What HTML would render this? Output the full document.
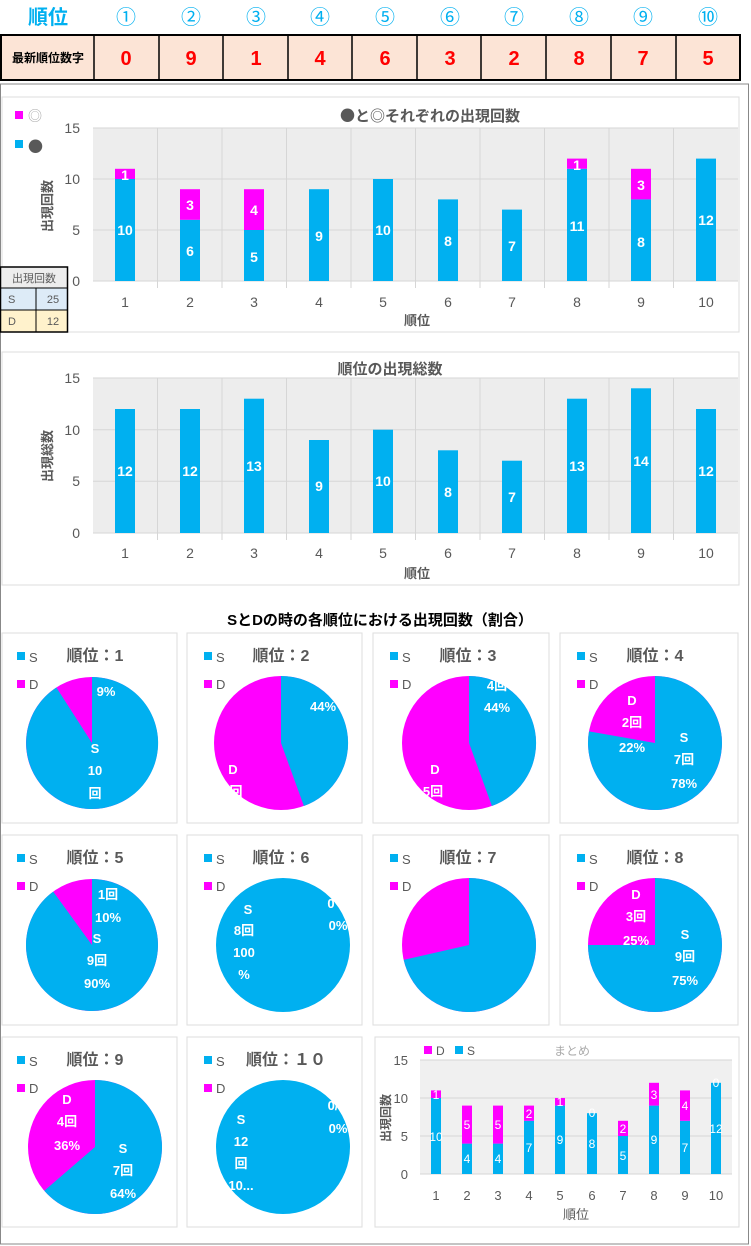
<!DOCTYPE html>
<html><head><meta charset="utf-8"><style>
body{margin:0;background:#fff;}
svg{display:block;font-family:"Liberation Sans","Noto Sans CJK JP",sans-serif;}
.w{fill:#fff;font-weight:bold;font-size:14px;text-anchor:middle}
.ws{fill:#fff;font-size:12px;text-anchor:middle}
.pt{fill:#595959;font-size:16px;font-weight:bold;text-anchor:middle}
.pl{fill:#fff;font-weight:bold;font-size:13px;text-anchor:middle}
.cjk{font-family:"Noto Sans CJK JP",sans-serif}
</style></head><body>
<svg width="751" height="1246" viewBox="0 0 751 1246" xmlns="http://www.w3.org/2000/svg">
<rect x="0.5" y="84" width="748" height="1160" fill="none" stroke="#888" stroke-width="1"/>
<g font-size="20" fill="#00b0f0" font-weight="bold" text-anchor="middle">
<text x="48" y="24">順位</text>
<text x="126" y="24" font-weight="normal">①</text><text x="191" y="24" font-weight="normal">②</text><text x="256" y="24" font-weight="normal">③</text><text x="320" y="24" font-weight="normal">④</text><text x="385" y="24" font-weight="normal">⑤</text><text x="450" y="24" font-weight="normal">⑥</text><text x="514" y="24" font-weight="normal">⑦</text><text x="579" y="24" font-weight="normal">⑧</text><text x="643" y="24" font-weight="normal">⑨</text><text x="708" y="24" font-weight="normal">⑩</text>
</g>
<rect x="1" y="35" width="739" height="45" fill="#fce4d6" stroke="#000" stroke-width="2"/>
<g stroke="#000" stroke-width="1.5"><line x1="94" y1="35" x2="94" y2="80"/><line x1="159" y1="35" x2="159" y2="80"/><line x1="223" y1="35" x2="223" y2="80"/><line x1="288" y1="35" x2="288" y2="80"/><line x1="352" y1="35" x2="352" y2="80"/><line x1="417" y1="35" x2="417" y2="80"/><line x1="481" y1="35" x2="481" y2="80"/><line x1="546" y1="35" x2="546" y2="80"/><line x1="611" y1="35" x2="611" y2="80"/><line x1="676" y1="35" x2="676" y2="80"/></g>
<text x="48" y="62" font-size="12" font-weight="bold" text-anchor="middle" fill="#000">最新順位数字</text>
<g font-size="20" fill="#ff0000" font-weight="bold" text-anchor="middle">
<text x="126" y="65">0</text><text x="191" y="65">9</text><text x="256" y="65">1</text><text x="320" y="65">4</text><text x="385" y="65">6</text><text x="450" y="65">3</text><text x="514" y="65">2</text><text x="579" y="65">8</text><text x="643" y="65">7</text><text x="708" y="65">5</text>
</g>

<rect x="2" y="97" width="737" height="235" fill="#fff" stroke="#ddd"/>
<rect x="93" y="128" width="645" height="153" fill="#ededed"/>
<g stroke="#d6d6d6"><line x1="93" y1="128" x2="738" y2="128"/><line x1="93" y1="179" x2="738" y2="179"/><line x1="93" y1="230" x2="738" y2="230"/>
<line x1="157.5" y1="128" x2="157.5" y2="288"/><line x1="222" y1="128" x2="222" y2="288"/><line x1="286.5" y1="128" x2="286.5" y2="288"/><line x1="351" y1="128" x2="351" y2="288"/><line x1="415.5" y1="128" x2="415.5" y2="288"/><line x1="480" y1="128" x2="480" y2="288"/><line x1="544.5" y1="128" x2="544.5" y2="288"/><line x1="609" y1="128" x2="609" y2="288"/><line x1="673.5" y1="128" x2="673.5" y2="288"/><line x1="93" y1="281" x2="738" y2="281"/></g>
<g fill="#595959" font-size="14" text-anchor="end"><text x="80" y="133">15</text><text x="80" y="184">10</text><text x="80" y="235">5</text><text x="80" y="286">0</text></g>
<g fill="#595959" font-size="14" text-anchor="middle"><text x="125" y="307">1</text><text x="190" y="307">2</text><text x="254" y="307">3</text><text x="319" y="307">4</text><text x="383" y="307">5</text><text x="448" y="307">6</text><text x="512" y="307">7</text><text x="577" y="307">8</text><text x="641" y="307">9</text><text x="706" y="307">10</text></g>
<text x="417" y="325" fill="#595959" font-size="13" font-weight="bold" text-anchor="middle">順位</text>
<text x="52" y="206" fill="#595959" font-size="13" font-weight="bold" text-anchor="middle" transform="rotate(-90 52 206)">出現回数</text>
<text x="430" y="121" fill="#595959" font-size="15" font-weight="bold" text-anchor="middle" class="cjk">●と◎それぞれの出現回数</text>
<rect x="15" y="111" width="8" height="8" fill="#ff00ff"/><text x="28" y="121" fill="#aaa" font-size="14" class="cjk">◎</text>
<rect x="15" y="140" width="8" height="8" fill="#00b0f0"/><text x="28" y="152" fill="#595959" font-size="15" class="cjk">●</text>
<g fill="#00b0f0">
<rect x="115" y="179" width="20" height="102"/><rect x="180" y="219.8" width="20" height="61.2"/><rect x="244" y="230" width="20" height="51"/><rect x="309" y="189.2" width="20" height="91.8"/><rect x="373" y="179" width="20" height="102"/><rect x="438" y="199.4" width="20" height="81.6"/><rect x="502" y="209.6" width="20" height="71.4"/><rect x="567" y="168.8" width="20" height="112.2"/><rect x="631" y="199.4" width="20" height="81.6"/><rect x="696" y="158.6" width="20" height="122.4"/></g>
<g fill="#ff00ff"><rect x="115" y="168.8" width="20" height="10.2"/><rect x="180" y="189.2" width="20" height="30.6"/><rect x="244" y="189.2" width="20" height="40.8"/><rect x="567" y="158.6" width="20" height="10.2"/><rect x="631" y="168.8" width="20" height="30.6"/></g>
<g class="w"><text x="125" y="235">10</text><text x="125" y="180">1</text><text x="190" y="256">6</text><text x="190" y="210">3</text><text x="254" y="262">5</text><text x="254" y="215">4</text><text x="319" y="241">9</text><text x="383" y="235">10</text><text x="448" y="246">8</text><text x="512" y="251">7</text><text x="577" y="231">11</text><text x="577" y="170">1</text><text x="641" y="247">8</text><text x="641" y="190">3</text><text x="706" y="225">12</text></g>
<rect x="0" y="267" width="68" height="21" fill="#ededed"/><rect x="0" y="288" width="68" height="22" fill="#ddebf7"/><rect x="0" y="310" width="68" height="22" fill="#fff2cc"/>
<rect x="0.5" y="267" width="67" height="65" fill="none" stroke="#000" stroke-width="1.5"/>
<g stroke="#000"><line x1="0" y1="288" x2="68" y2="288"/><line x1="0" y1="310" x2="68" y2="310"/><line x1="36" y1="288" x2="36" y2="332"/></g>
<g fill="#595959" font-size="11"><text x="34" y="282" text-anchor="middle">出現回数</text><text x="8" y="303">S</text><text x="53" y="303" text-anchor="middle">25</text><text x="8" y="325">D</text><text x="53" y="325" text-anchor="middle">12</text></g>

<rect x="2" y="352" width="737" height="233" fill="#fff" stroke="#ddd"/>
<rect x="93" y="378" width="645" height="155" fill="#ededed"/>
<g stroke="#d6d6d6"><line x1="93" y1="378" x2="738" y2="378"/><line x1="93" y1="429.7" x2="738" y2="429.7"/><line x1="93" y1="481.3" x2="738" y2="481.3"/>
<line x1="157.5" y1="378" x2="157.5" y2="540"/><line x1="222" y1="378" x2="222" y2="540"/><line x1="286.5" y1="378" x2="286.5" y2="540"/><line x1="351" y1="378" x2="351" y2="540"/><line x1="415.5" y1="378" x2="415.5" y2="540"/><line x1="480" y1="378" x2="480" y2="540"/><line x1="544.5" y1="378" x2="544.5" y2="540"/><line x1="609" y1="378" x2="609" y2="540"/><line x1="673.5" y1="378" x2="673.5" y2="540"/><line x1="93" y1="533" x2="738" y2="533"/></g>
<g fill="#595959" font-size="14" text-anchor="end"><text x="80" y="383">15</text><text x="80" y="435">10</text><text x="80" y="486">5</text><text x="80" y="538">0</text></g>
<g fill="#595959" font-size="14" text-anchor="middle"><text x="125" y="558">1</text><text x="190" y="558">2</text><text x="254" y="558">3</text><text x="319" y="558">4</text><text x="383" y="558">5</text><text x="448" y="558">6</text><text x="512" y="558">7</text><text x="577" y="558">8</text><text x="641" y="558">9</text><text x="706" y="558">10</text></g>
<text x="417" y="578" fill="#595959" font-size="13" font-weight="bold" text-anchor="middle">順位</text>
<text x="52" y="456" fill="#595959" font-size="13" font-weight="bold" text-anchor="middle" transform="rotate(-90 52 456)">出現総数</text>
<text x="390" y="374" fill="#595959" font-size="15" font-weight="bold" text-anchor="middle">順位の出現総数</text>
<g fill="#00b0f0"><rect x="115" y="409" width="20" height="124"/><rect x="180" y="409" width="20" height="124"/><rect x="244" y="398.7" width="20" height="134.3"/><rect x="309" y="440" width="20" height="93"/><rect x="373" y="429.7" width="20" height="103.3"/><rect x="438" y="450.3" width="20" height="82.7"/><rect x="502" y="460.7" width="20" height="72.3"/><rect x="567" y="398.7" width="20" height="134.3"/><rect x="631" y="388.3" width="20" height="144.7"/><rect x="696" y="409" width="20" height="124"/></g>
<g class="w"><text x="125" y="476">12</text><text x="190" y="476">12</text><text x="254" y="471">13</text><text x="319" y="491">9</text><text x="383" y="486">10</text><text x="448" y="497">8</text><text x="512" y="502">7</text><text x="577" y="471">13</text><text x="641" y="466">14</text><text x="706" y="476">12</text></g>

<text x="380" y="625" fill="#000" font-size="15" font-weight="bold" text-anchor="middle">SとDの時の各順位における出現回数（割合）</text>
<g fill="#fff" stroke="#ddd">
<rect x="2" y="633" width="175" height="190"/><rect x="187" y="633" width="175" height="190"/><rect x="373" y="633" width="176" height="190"/><rect x="560" y="633" width="178" height="190"/>
<rect x="2" y="835" width="175" height="190"/><rect x="187" y="835" width="175" height="190"/><rect x="373" y="835" width="176" height="190"/><rect x="560" y="835" width="178" height="190"/>
<rect x="2" y="1037" width="175" height="190"/><rect x="187" y="1037" width="175" height="190"/><rect x="375" y="1037" width="364" height="190"/>
</g>
<g font-size="13" fill="#595959">
<rect x="17" y="652" width="8" height="8" fill="#00b0f0"/><text x="29" y="662">S</text><rect x="17" y="680" width="8" height="8" fill="#ff00ff"/><text x="29" y="689">D</text>
<rect x="204" y="652" width="8" height="8" fill="#00b0f0"/><text x="216" y="662">S</text><rect x="204" y="680" width="8" height="8" fill="#ff00ff"/><text x="216" y="689">D</text>
<rect x="390" y="652" width="8" height="8" fill="#00b0f0"/><text x="402" y="662">S</text><rect x="390" y="680" width="8" height="8" fill="#ff00ff"/><text x="402" y="689">D</text>
<rect x="577" y="652" width="8" height="8" fill="#00b0f0"/><text x="589" y="662">S</text><rect x="577" y="680" width="8" height="8" fill="#ff00ff"/><text x="589" y="689">D</text>
<rect x="17" y="854" width="8" height="8" fill="#00b0f0"/><text x="29" y="864">S</text><rect x="17" y="882" width="8" height="8" fill="#ff00ff"/><text x="29" y="891">D</text>
<rect x="204" y="854" width="8" height="8" fill="#00b0f0"/><text x="216" y="864">S</text><rect x="204" y="882" width="8" height="8" fill="#ff00ff"/><text x="216" y="891">D</text>
<rect x="390" y="854" width="8" height="8" fill="#00b0f0"/><text x="402" y="864">S</text><rect x="390" y="882" width="8" height="8" fill="#ff00ff"/><text x="402" y="891">D</text>
<rect x="577" y="854" width="8" height="8" fill="#00b0f0"/><text x="589" y="864">S</text><rect x="577" y="882" width="8" height="8" fill="#ff00ff"/><text x="589" y="891">D</text>
<rect x="17" y="1056" width="8" height="8" fill="#00b0f0"/><text x="29" y="1066">S</text><rect x="17" y="1084" width="8" height="8" fill="#ff00ff"/><text x="29" y="1093">D</text>
<rect x="204" y="1056" width="8" height="8" fill="#00b0f0"/><text x="216" y="1066">S</text><rect x="204" y="1084" width="8" height="8" fill="#ff00ff"/><text x="216" y="1093">D</text>
</g>
<g class="pt">
<text x="95" y="661">順位：1</text><text x="281" y="661">順位：2</text><text x="468" y="661">順位：3</text><text x="655" y="661">順位：4</text>
<text x="95" y="863">順位：5</text><text x="281" y="863">順位：6</text><text x="468" y="863">順位：7</text><text x="655" y="863">順位：8</text>
<text x="95" y="1065">順位：9</text><text x="286" y="1065">順位：１０</text>
</g>
<circle cx="92" cy="743" r="66" fill="#ff00ff"/><path d="M92,743 L92,677 A66,66 0 1,1 56.4,687.5 Z" fill="#00b0f0"/>
<circle cx="281" cy="743" r="67" fill="#ff00ff"/><path d="M281,743 L281,676 A67,67 0 0,1 303.9,806 Z" fill="#00b0f0"/>
<circle cx="469" cy="743" r="67" fill="#ff00ff"/><path d="M469,743 L469,676 A67,67 0 0,1 491.9,806 Z" fill="#00b0f0"/>
<circle cx="655" cy="743" r="67" fill="#ff00ff"/><path d="M655,743 L655,676 A67,67 0 1,1 589,731.4 Z" fill="#00b0f0"/>
<circle cx="92" cy="945" r="66" fill="#ff00ff"/><path d="M92,945 L92,879 A66,66 0 1,1 53.2,891.6 Z" fill="#00b0f0"/>
<circle cx="283" cy="945" r="67" fill="#00b0f0"/>
<circle cx="469" cy="945" r="67" fill="#ff00ff"/><path d="M469,945 L469,878 A67,67 0 1,1 403.7,959.9 Z" fill="#00b0f0"/>
<circle cx="655" cy="945" r="67" fill="#ff00ff"/><path d="M655,945 L655,878 A67,67 0 1,1 588,945 Z" fill="#00b0f0"/>
<circle cx="95" cy="1147" r="67" fill="#ff00ff"/><path d="M95,1147 L95,1080 A67,67 0 1,1 44.3,1190.8 Z" fill="#00b0f0"/>
<circle cx="283" cy="1147" r="67" fill="#00b0f0"/>
<g class="pl">
<text x="106" y="696">9%</text><text x="95" y="753">S</text><text x="95" y="775">10</text><text x="95" y="798">回</text>
<text x="323" y="711">44%</text><text x="233" y="774">D</text><text x="236" y="796">回</text>
<text x="497" y="690">4回</text><text x="497" y="712">44%</text><text x="435" y="774">D</text><text x="433" y="796">5回</text>
<text x="632" y="705">D</text><text x="632" y="727">2回</text><text x="632" y="752">22%</text><text x="684" y="742">S</text><text x="684" y="764">7回</text><text x="684" y="788">78%</text>
<text x="108" y="899">1回</text><text x="108" y="922">10%</text><text x="97" y="943">S</text><text x="97" y="965">9回</text><text x="97" y="988">90%</text>
<text x="248" y="914">S</text><text x="244" y="935">8回</text><text x="244" y="957">100</text><text x="244" y="979">%</text><text x="331" y="908">0</text><text x="338" y="930">0%</text>
<text x="636" y="899">D</text><text x="636" y="921">3回</text><text x="636" y="945">25%</text><text x="685" y="939">S</text><text x="685" y="961">9回</text><text x="685" y="985">75%</text>
<text x="67" y="1104">D</text><text x="67" y="1126">4回</text><text x="67" y="1150">36%</text><text x="123" y="1153">S</text><text x="123" y="1175">7回</text><text x="123" y="1198">64%</text>
<text x="241" y="1124">S</text><text x="241" y="1146">12</text><text x="241" y="1168">回</text><text x="241" y="1190">10...</text><text x="333" y="1110">0/</text><text x="338" y="1133">0%</text>
</g>
<rect x="420" y="1060" width="312" height="114" fill="#f0f0f0"/>
<g stroke="#d6d6d6"><line x1="420" y1="1060" x2="732" y2="1060"/><line x1="420" y1="1098" x2="732" y2="1098"/><line x1="420" y1="1136" x2="732" y2="1136"/><line x1="420" y1="1174" x2="732" y2="1174"/></g>
<g fill="#595959" font-size="13" text-anchor="end"><text x="408" y="1065">15</text><text x="408" y="1103">10</text><text x="408" y="1141">5</text><text x="408" y="1179">0</text></g>
<g fill="#595959" font-size="13" text-anchor="middle"><text x="436" y="1200">1</text><text x="467" y="1200">2</text><text x="498" y="1200">3</text><text x="529" y="1200">4</text><text x="560" y="1200">5</text><text x="592" y="1200">6</text><text x="623" y="1200">7</text><text x="654" y="1200">8</text><text x="685" y="1200">9</text><text x="716" y="1200">10</text></g>
<text x="576" y="1219" fill="#595959" font-size="13" text-anchor="middle">順位</text>
<text x="390" y="1118" fill="#595959" font-size="12" font-weight="bold" text-anchor="middle" transform="rotate(-90 390 1118)">出現回数</text>
<rect x="424" y="1046" width="8" height="8" fill="#ff00ff"/><text x="436" y="1055" fill="#595959" font-size="12">D</text>
<rect x="455" y="1046" width="8" height="8" fill="#00b0f0"/><text x="467" y="1055" fill="#595959" font-size="12">S</text>
<text x="572" y="1055" fill="#aaa" font-size="12" text-anchor="middle">まとめ</text>
<g fill="#00b0f0"><rect x="431" y="1098" width="10" height="76"/><rect x="462" y="1143.6" width="10" height="30.4"/><rect x="493" y="1143.6" width="10" height="30.4"/><rect x="524" y="1120.8" width="10" height="53.2"/><rect x="555" y="1105.6" width="10" height="68.4"/><rect x="587" y="1113.2" width="10" height="60.8"/><rect x="618" y="1136" width="10" height="38"/><rect x="649" y="1105.6" width="10" height="68.4"/><rect x="680" y="1120.8" width="10" height="53.2"/><rect x="711" y="1082.8" width="10" height="91.2"/></g>
<g fill="#ff00ff"><rect x="431" y="1090.4" width="10" height="7.6"/><rect x="462" y="1105.6" width="10" height="38"/><rect x="493" y="1105.6" width="10" height="38"/><rect x="524" y="1105.6" width="10" height="15.2"/><rect x="555" y="1098" width="10" height="7.6"/><rect x="618" y="1120.8" width="10" height="15.2"/><rect x="649" y="1082.8" width="10" height="22.8"/><rect x="680" y="1090.4" width="10" height="30.4"/></g>
<g class="ws"><text x="436" y="1141">10</text><text x="436" y="1099">1</text><text x="467" y="1163">4</text><text x="467" y="1129">5</text><text x="498" y="1163">4</text><text x="498" y="1129">5</text><text x="529" y="1152">7</text><text x="529" y="1118">2</text><text x="560" y="1144">9</text><text x="560" y="1106">1</text><text x="592" y="1148">8</text><text x="592" y="1117">0</text><text x="623" y="1160">5</text><text x="623" y="1133">2</text><text x="654" y="1144">9</text><text x="654" y="1099">3</text><text x="685" y="1152">7</text><text x="685" y="1110">4</text><text x="716" y="1133">12</text><text x="716" y="1087">0</text></g>
</svg>
</body></html>
